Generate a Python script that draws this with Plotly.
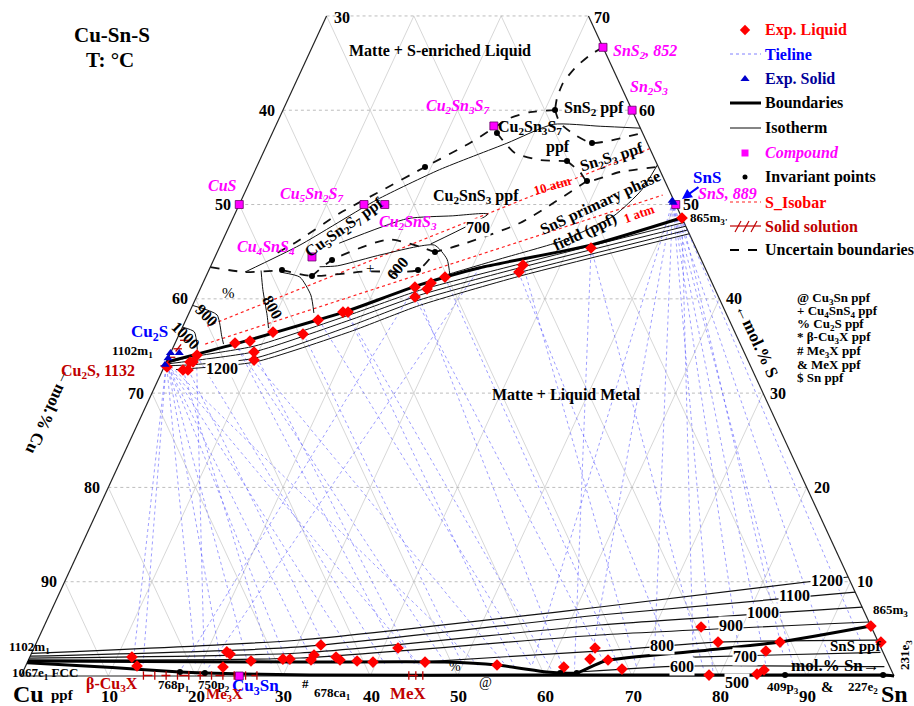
import plotly.graph_objects as go

# ------------------------------------------------------------------
# Cu-Sn-S liquidus projection.  All compositions are mol.% given as
# (Sn, S) pairs; Cu = 100 - Sn - S.  The diagram is cut at 70 % S.
# ------------------------------------------------------------------
TICKS = [10, 20, 30, 40, 50, 60, 70, 80, 90]
S_TOP = 70

compound_sn = [33.33, 40.0, 50.0, 25.0, 16.67, 14.29, 0.0, 11.11, 25.0]
compound_s = [66.67, 60.0, 50.0, 58.33, 50.0, 50.0, 50.0, 44.44, 0.0]

# experimental liquid compositions (matte side, then metal side)
liquid_sn = [6.86, 8.47, 10.63, 14.17, 15.15, 17.58, 18.16, 3.14, 2.71, 3.05,
             9.51, 9.94, 2.33, 2.90, 0.34, 24.5, 25.03, 25.99, 26.13, 27.41,
             35.71, 35.62, 42.6, 51.43,
             11.7, 12.76, 22.3, 22.78, 22.66, 25.55, 29.1, 29.9, 32.7, 32.45,
             32.37, 35.08, 35.69, 37.7, 39.58, 41.7, 45.54, 53.94, 61.7, 64.28,
             64.27, 66.39, 75.3, 78.04, 85.14, 84.0, 68.47, 78.76, 84.2, 84.79,
             94.7, 96.7]
liquid_s = [35.31, 35.52, 36.47, 36.26, 37.75, 38.6, 38.6, 34.04, 33.3, 33.3,
            34.36, 33.51, 32.45, 32.45, 32.77, 41.25, 40.2, 41.04, 41.67, 42.31,
            43.58, 42.84, 45.39, 48.57,
            2.01, 1.06, 2.55, 2.33, 0.95, 1.59, 1.8, 1.8, 3.29, 2.23,
            1.7, 2.01, 1.7, 1.59, 1.48, 2.97, 1.48, 1.17, 0.95, 1.8,
            2.97, 1.7, 5.2, 3.6, 3.6, 2.65, 0.74, 0.1, 0.21, 0.64,
            5.3, 3.6]

# experimental solid compositions
solid_sn = [0.0, 1.0, 0.0, 0.0, 49.4, 49.6]
solid_s = [34.25, 34.25, 33.7, 33.0, 50.4, 50.2]

# invariant points
inv_sn = [31.16, 25.73, 37.15, 35.24, 19.29, 38.59, 8.37, 13.57, 12.12, 24.94,
          23.95, 18.0, 20.9, 61.6, 63.5, 87.47, 98.7]
inv_s = [60.02, 57.58, 56.52, 54.61, 53.98, 52.49, 43.05, 44.11, 42.42, 44.96,
         43.05, 0.42, 0.32, 0.32, 0.32, 0.1, 0.1]

# tie-lines: matte end (Sn, S) -> metal end (Sn, S)
tie_matte = [(0.0, 33.3), (0.0, 33.3), (0.0, 33.3), (0.3, 33.0), (0.3, 33.0),
             (0.0, 33.3), (0.5, 32.8), (0.0, 33.3), (0.3, 33.0), (0.0, 33.3),
             (2.3, 32.5), (2.9, 32.5), (3.1, 34.0), (3.1, 34.0), (6.9, 35.3),
             (6.9, 35.3), (9.5, 34.4), (9.9, 33.5), (14.2, 36.3), (15.2, 37.8),
             (18.0, 38.6), (18.0, 38.6), (24.5, 41.3), (24.5, 41.3), (25.0, 40.2),
             (30.9, 43.3), (27.4, 42.3), (35.7, 43.6), (35.6, 42.8), (42.6, 45.4),
             (42.6, 45.4), (49.5, 50.3), (49.5, 50.3), (49.5, 50.3), (49.5, 50.3),
             (49.5, 50.3), (49.5, 50.3), (49.5, 50.3), (49.5, 50.3), (51.4, 48.6),
             (51.4, 48.6), (51.4, 48.6)]
tie_metal = [(12.3, 1.0), (13.5, 0.9), (19.5, 1.0), (22.5, 1.0), (25.5, 1.1),
             (30.0, 1.2), (33.0, 1.2), (38.0, 1.3), (45.0, 1.2), (52.0, 1.0),
             (28.0, 1.3), (35.0, 1.4), (20.5, 1.0), (41.0, 1.3), (43.0, 1.3),
             (48.0, 1.3), (44.5, 1.2), (55.0, 1.1), (50.0, 1.2), (58.0, 1.0),
             (56.0, 1.0), (60.5, 0.6), (18.0, 0.8), (62.0, 0.5), (66.0, 1.5),
             (21.0, 0.8), (68.0, 1.0), (70.0, 1.0), (74.0, 1.5), (63.0, 0.8),
             (78.0, 0.5), (58.0, 1.0), (64.5, 1.5), (72.0, 1.0), (79.0, 0.5),
             (82.0, 1.0), (85.0, 0.8), (88.0, 1.0), (92.0, 1.5), (76.0, 2.0),
             (86.0, 2.5), (95.0, 3.0)]

# univariant boundaries (thick)
boundary_matte = [(0.0, 33.3), (6.9, 35.2), (15.1, 37.75), (18.0, 38.7), (25.0, 41.5),
                  (30.9, 43.3), (42.4, 45.7), (51.4, 48.6)]
boundary_metal = [(0.0, 1.6), (31.2, 1.48), (47.8, 1.48), (53.9, 1.17), (60.0, 0.42),
                  (61.6, 0.32), (63.5, 0.32), (66.1, 1.6), (76.3, 2.65), (85.1, 3.6),
                  (94.7, 5.3)]
boundary_low = [(0.0, 1.4), (10.0, 0.9), (18.0, 0.42), (20.9, 0.32), (33.0, 0.1),
                (60.0, 0.1), (87.5, 0.1), (98.7, 0.1), (100.0, 0.0)]

# isotherms on the matte side of the miscibility gap
iso_matte = [
    [(0.2, 33.2), (2.45, 33.8), (9.3, 35.0), (18.5, 38.3), (25.2, 40.9), (35.3, 43.7), (51.9, 48.1)],
    [(0.2, 33.1), (2.66, 33.4), (9.6, 34.4), (18.8, 37.75), (25.5, 40.4), (35.5, 43.3), (52.3, 47.7)],
    [(0.3, 32.9), (2.87, 33.0), (9.9, 33.7), (19.1, 37.1), (25.75, 39.9), (35.7, 42.8), (52.7, 47.3)],
    [(1.5, 32.5), (3.1, 32.6), (10.15, 33.3), (19.4, 36.5), (26.0, 39.3), (35.9, 42.4), (53.1, 46.9)],
]
# isotherms on the metal side: 1200, 1100, 1000, 900, 800, 700, 600
iso_metal = [
    [(0.0, 2.4), (30.05, 3.82), (62.66, 7.32), (89.5, 10.5)],
    [(0.0, 2.1), (30.4, 3.08), (63.1, 6.47), (91.1, 8.9)],
    [(0.0, 1.9), (30.7, 2.44), (63.6, 5.41), (92.7, 7.3)],
    [(0.0, 1.7), (31.0, 1.91), (64.1, 4.35), (94.3, 5.73)],
    [(45.0, 1.48), (66.5, 2.75), (78.0, 3.6), (96.2, 3.8)],
    [(76.0, 2.0), (84.0, 2.2), (97.2, 2.5)],
    [(64.0, 0.45), (75.0, 1.05), (98.4, 1.0)],
]
# isotherms inside the S-rich primary fields
iso_upper = [
    [(4.24, 42.84), (9.1, 45.7), (15.5, 50.5), (21.1, 53.7), (27.4, 56.5), (31.7, 58.5),
     (37.2, 58.3), (41.9, 58.1)],
    [(0.0, 39.3), (3.3, 38.3), (5.0, 36.0), (5.6, 35.2)],
    [(0.0, 37.0), (1.6, 36.5), (2.9, 34.6)],
    [(6.0, 43.0), (7.2, 41.0), (9.1, 38.2), (9.9, 36.9)],
    [(8.5, 42.8), (10.8, 42.3), (13.0, 40.4), (14.3, 38.5)],
    [(13.5, 45.9), (20.0, 48.5), (25.0, 48.8), (29.0, 49.0), (24.0, 45.8)],
    [(12.5, 43.4), (14.5, 43.5), (19.0, 44.7), (24.5, 45.7), (26.7, 44.2), (28.0, 42.3)],
    [(27.0, 42.4), (33.0, 44.3), (39.0, 46.2), (43.5, 48.8), (45.3, 51.5), (45.8, 54.2)],
]
uncertain = [
    [(33.33, 66.67), (32.25, 65.85), (31.22, 64.48), (30.64, 62.88), (30.75, 61.29), (31.16, 60.02)],
    [(31.16, 60.02), (28.4, 59.8), (26.43, 59.17), (23.17, 56.52), (19.29, 53.98),
     (15.17, 51.22), (11.99, 49.1), (8.5, 46.0), (6.5, 44.6)],
    [(31.16, 60.02), (32.42, 58.64), (34.78, 57.37), (37.15, 56.52), (42.4, 57.6)],
    [(25.73, 57.58), (27.18, 56.52), (28.86, 55.46), (32.09, 54.72), (35.24, 54.61)],
    [(35.24, 54.61), (37.31, 53.45), (38.59, 52.49), (41.89, 53.45), (46.0, 54.0)],
    [(38.59, 52.49), (33.14, 48.04), (27.43, 45.71), (24.94, 44.96)],
    [(0.0, 43.37), (4.24, 42.84), (8.37, 43.05)],
    [(8.37, 43.05), (12.12, 42.42), (18.0, 42.9), (23.95, 43.05), (24.94, 44.96)],
    [(12.12, 42.42), (13.57, 44.11), (19.0, 46.3), (24.94, 44.96)],
]
isobar_10 = [(2.8, 37.1), (44.0, 55.9)]
isobar_1 = [(3.5, 35.2), (48.0, 51.0)]

# solid-solution ranges (hatched)
ss_cu2s = [(0.0, 32.9), (0.4, 34.2), (0.9, 35.6)]
ss_cu3sn = [(14.0, 0.05), (27.0, 0.05)]
ss_mex = [(44.4, 0.05), (46.0, 0.05)]

# ------------------------------------------------------------------
FIG_W, FIG_H = 914, 706
X_RANGE = [-2.405, 102.29]
Y_RANGE = [-3.18, 71.69]
FONT = "Liberation Serif"
MAGENTA = "#ff00ff"
DARKRED = "#c00000"


def xy(pts):
    return [p[0] + p[1] / 2.0 for p in pts], [p[1] for p in pts]


def px(xp, yp):
    """page pixel -> data coordinates (for legend samples)"""
    return (X_RANGE[0] + xp / FIG_W * (X_RANGE[1] - X_RANGE[0]),
            Y_RANGE[1] - yp / FIG_H * (Y_RANGE[1] - Y_RANGE[0]))


fig = go.Figure()


def add_lines(paths, color, width, dash="solid"):
    xs, ys = [], []
    for p in paths:
        x, y = xy(p)
        xs += x + [None]
        ys += y + [None]
    fig.add_trace(go.Scatter(x=xs, y=ys, mode="lines", hoverinfo="skip",
                             line=dict(color=color, width=width, dash=dash,
                                       shape="spline", smoothing=0.6)))


def add_straight(paths, color, width, dash="solid"):
    xs, ys = [], []
    for p in paths:
        x, y = xy(p)
        xs += x + [None]
        ys += y + [None]
    fig.add_trace(go.Scatter(x=xs, y=ys, mode="lines", hoverinfo="skip",
                             line=dict(color=color, width=width, dash=dash)))


# grid
grid_h, grid_inc = [], []
for k in TICKS:
    if k < S_TOP:
        grid_h.append([(0, k), (100 - k, k)])
    top = min(S_TOP, 100 - k)
    grid_inc.append([(k, 0), (k, top)])
    grid_inc.append([(100 - k, 0), (100 - k - top, top)])
grid_h.append([(0, S_TOP), (100 - S_TOP, S_TOP)])
add_straight(grid_inc, "#cdcdcd", 0.8)
add_straight(grid_h, "#b5b5b5", 0.9, "dot")

# frame
add_straight([[(0, 0), (0, S_TOP)], [(100, 0), (100 - S_TOP, S_TOP)], [(0, 0), (100, 0)]],
             "#222222", 1.2)

# tie-lines
add_straight([[a, b] for a, b in zip(tie_matte, tie_metal)], "rgba(80,80,255,0.7)", 0.8, "dot")

# S isobars
add_straight([isobar_10, isobar_1], "#ff2020", 1.2, "dot")

# isotherms
add_lines(iso_matte, "#111111", 1.0)
add_lines(iso_metal, "#111111", 1.2)
add_lines(iso_upper, "#111111", 1.0)

# uncertain boundaries
add_lines(uncertain, "#111111", 1.8, "dash")

# boundaries
add_lines([boundary_matte, boundary_metal, boundary_low], "#000000", 3.0)

# solid solutions: red line with cross ticks
for seg, sym in ((ss_cu2s, "line-ew"), (ss_cu3sn, "line-ns"), (ss_mex, "line-ns")):
    sx_, sy_ = xy(seg)
    fig.add_trace(go.Scatter(x=sx_, y=sy_, mode="lines", hoverinfo="skip",
                             line=dict(color=DARKRED, width=1.4, dash="dash")))
    n = max(3, int(abs(seg[-1][0] - seg[0][0]) / 1.3) + 1) if sym == "line-ns" else 4
    tx = [sx_[0] + (sx_[-1] - sx_[0]) * i / (n - 1) for i in range(n)]
    ty = [sy_[0] + (sy_[-1] - sy_[0]) * i / (n - 1) for i in range(n)]
    fig.add_trace(go.Scatter(x=tx, y=ty, mode="markers", hoverinfo="skip",
                             marker=dict(symbol=sym, size=6,
                                         line=dict(color=DARKRED, width=1.3))))

# markers
cx, cy = xy(list(zip(compound_sn, compound_s)))
fig.add_trace(go.Scatter(x=cx, y=cy, mode="markers", hoverinfo="skip",
                         marker=dict(symbol="square", size=8, color=MAGENTA,
                                     line=dict(color="#660066", width=0.8))))
lx, ly = xy(list(zip(liquid_sn, liquid_s)))
fig.add_trace(go.Scatter(x=lx, y=ly, mode="markers", hoverinfo="skip",
                         marker=dict(symbol="diamond", size=9, color="#ff0000")))
sx, sy = xy(list(zip(solid_sn, solid_s)))
fig.add_trace(go.Scatter(x=sx, y=sy, mode="markers", hoverinfo="skip",
                         marker=dict(symbol="triangle-up", size=8, color="#0000cc")))
ix, iy = xy(list(zip(inv_sn, inv_s)))
fig.add_trace(go.Scatter(x=ix, y=iy, mode="markers", hoverinfo="skip",
                         marker=dict(symbol="circle", size=6, color="#000000")))

# ---------------- legend (drawn in page pixels) ----------------
LEG_X0, LEG_X1, LEG_XM, LEG_TX = 730, 761, 745, 763
legend_rows = [
    ("Exp. Liquid", "#ff0000", 30, False),
    ("Tieline", "#0000ff", 54, False),
    ("Exp. Solid", "#000099", 79, False),
    ("Boundaries", "#000000", 103, False),
    ("Isotherm", "#000000", 128, False),
    ("Compound", MAGENTA, 153, True),
    ("Invariant points", "#000000", 177, False),
    ("S_Isobar", "#ff0000", 202, False),
    ("Solid solution", DARKRED, 226, False),
    ("Uncertain boundaries", "#000000", 250, False),
]


def leg_line(y, color, width, dash="solid"):
    a = px(LEG_X0, y)
    b = px(LEG_X1, y)
    fig.add_trace(go.Scatter(x=[a[0], b[0]], y=[a[1], b[1]], mode="lines", hoverinfo="skip",
                             line=dict(color=color, width=width, dash=dash)))


def leg_marker(y, symbol, color, size):
    a = px(LEG_XM, y)
    fig.add_trace(go.Scatter(x=[a[0]], y=[a[1]], mode="markers", hoverinfo="skip",
                             marker=dict(symbol=symbol, color=color, size=size)))


leg_marker(30, "diamond", "#ff0000", 8)
leg_line(54, "rgba(80,80,255,0.8)", 0.9, "dot")
leg_marker(79, "triangle-up", "#0000cc", 8)
leg_line(103, "#000000", 3)
leg_line(128, "#333333", 1.2)
leg_marker(153, "square", MAGENTA, 7)
leg_marker(177, "circle", "#000000", 5)
leg_line(202, "#ff2020", 1.2, "dot")
leg_line(226, DARKRED, 1.2)
hx, hy = [], []
for xh in (738, 746, 754):
    a = px(xh - 3, 232)
    b = px(xh + 3, 221)
    hx += [a[0], b[0], None]
    hy += [a[1], b[1], None]
fig.add_trace(go.Scatter(x=hx, y=hy, mode="lines", hoverinfo="skip",
                         line=dict(color=DARKRED, width=1.2)))
leg_line(250, "#000000", 1.8, "dash")

annotations = []


def label(text, x, y, size=16, color="#000000", angle=0, bold=True, italic=False,
          xanchor="center", bg=None):
    t = text
    if italic:
        t = "<i>" + t + "</i>"
    if bold:
        t = "<b>" + t + "</b>"
    d = dict(text=t, x=x / FIG_W, y=1 - y / FIG_H, xref="paper", yref="paper",
             showarrow=False, xanchor=xanchor, yanchor="middle", textangle=angle,
             font=dict(family=FONT, size=size, color=color))
    if bg:
        d["bgcolor"] = bg
        d["borderpad"] = 0
    annotations.append(d)


for txt, col, yy, ital in legend_rows:
    label(txt, LEG_TX, yy, 16, col, italic=ital, xanchor="left")

# title
label("Cu-Sn-S", 112, 35, 21)
label("T: °C", 110, 60, 21)

# axis tick labels
for s in [10, 20, 30, 40, 50, 60]:
    x0 = 21 + 8.73 * (s / 2.0)
    y0 = 676 - 9.43 * s
    label(str(100 - s), x0 - 16, y0, 16)
    xr = 21 + 8.73 * (100 - s / 2.0)
    label(str(s), xr + 15, y0, 16)
label("30", 342, 17, 16)
label("70", 602, 17, 16)
for k in TICKS:
    label(str(k), 21 + 8.73 * k + 1, 696, 17)

label("←mol.% Cu", 50, 412, 17, angle=115)
label("←mol.% S", 757, 340, 17, angle=65)
label("mol.% Sn→", 835, 665, 17)
label("Cu", 28, 694, 24)
label("Sn", 894, 694, 24)

# region / field names
label("Matte + S-enriched Liquid", 440, 51, 16)
label("Matte + Liquid Metal", 566, 395, 16)
label("SnS<sub>2</sub>, 852", 645, 52, 16, MAGENTA, italic=True)
label("Sn<sub>2</sub>S<sub>3</sub>", 649, 88, 16, MAGENTA, italic=True)
label("Cu<sub>2</sub>Sn<sub>3</sub>S<sub>7</sub>", 457, 107, 16, MAGENTA, italic=True)
label("SnS<sub>2</sub> ppf", 594, 108, 16)
label("Cu<sub>2</sub>Sn<sub>3</sub>S<sub>7</sub>", 530, 128, 16)
label("ppf", 558, 147, 16)
label("Sn<sub>2</sub>S<sub>3</sub> ppf", 612, 157, 16, angle=-17)
label("10 atm", 552, 185, 13, "#ff0000", angle=-17)
label("1 atm", 639, 213, 13, "#ff0000", angle=-20)
label("SnS primary phase", 600, 203, 16, angle=-25)
label("field (ppf)", 585, 232, 16, angle=-25)
label("Cu<sub>2</sub>SnS<sub>3</sub> ppf", 476, 196, 16)
label("CuS", 222, 185, 16, MAGENTA, italic=True)
label("Cu<sub>5</sub>Sn<sub>2</sub>S<sub>7</sub>", 311, 195, 16, MAGENTA, italic=True)
label("Cu<sub>2</sub>SnS<sub>3</sub>", 408, 223, 16, MAGENTA, italic=True)
label("Cu<sub>4</sub>SnS<sub>4</sub>", 266, 247, 16, MAGENTA, italic=True)
label("Cu<sub>5</sub>Sn<sub>2</sub>S<sub>7</sub> ppf", 345, 228, 16, angle=-35)
label("700", 478, 227, 16, bg="white")
label("600", 397, 268, 16, angle=-50)
label("+", 370, 268, 15, bold=False)
label("800", 273, 307, 16, angle=60)
label("%", 228, 293, 15, bold=False)
label("900", 207, 315, 16, angle=45)
label("1000", 186, 335, 16, angle=45)
label("1200", 222, 369, 16, bg="white")
label("1102m<sub>1</sub>", 132, 351, 13)
label("Cu<sub>2</sub>S", 149, 333, 17, "#0000ff")
label("Cu<sub>2</sub>S, 1132", 137, 371, 16, DARKRED, xanchor="right")
label("SnS", 707, 177, 17, "#0000ff")
label("SnS, 889", 727, 193, 16, MAGENTA, italic=True)
label("865m<sub>3'</sub>", 708, 218, 13)

notes = ["@ Cu<sub>3</sub>Sn ppf", "+ Cu<sub>4</sub>SnS<sub>4</sub> ppf", "% Cu<sub>2</sub>S ppf",
         "* β-Cu<sub>3</sub>X ppf", "# Me<sub>3</sub>X ppf", "&amp; MeX ppf", "$ Sn ppf"]
for i, n in enumerate(notes):
    label(n, 795, 298 + 13.3 * i, 13, xanchor="left")

# bottom region labels
label("1102m<sub>1</sub>", 30, 647, 13)
label("1067e<sub>1</sub> FCC", 45, 673, 13)
label("ppf", 62, 695, 15)
label("β-Cu<sub>3</sub>X", 112, 684, 16, DARKRED)
label("768p<sub>1</sub>", 174, 685, 13)
label("750p<sub>2</sub>", 214, 685, 13)
label("Cu<sub>3</sub>Sn", 255, 687, 17, "#0000ff")
label("Me<sub>3</sub>X", 224, 695, 15, DARKRED)
label("#", 305, 683, 13)
label("678ca<sub>1</sub>", 332, 693, 13)
label("MeX", 408, 693, 17, DARKRED)
label("%", 455, 666, 14, bold=False)
label("@", 485, 682, 14, bold=False)
label("409p<sub>3</sub>", 783, 687, 13)
label("&amp;", 827, 687, 15)
label("227e<sub>2</sub>", 863, 687, 13)
label("231e<sub>3</sub>", 905, 655, 13, angle=-90)
label("SnS ppf", 855, 646, 15)
label("865m<sub>3</sub>", 890, 610, 13)
for txt, xx, yy in [("1200", 827, 580), ("1100", 794, 595), ("1000", 763, 612),
                    ("900", 731, 625), ("800", 662, 645), ("700", 745, 656),
                    ("600", 682, 666), ("500", 737, 682)]:
    label(txt, xx, yy, 16, bg="white")

# SnS arrow
a0 = px(700, 186)
a1 = px(682, 199)
annotations.append(dict(x=a1[0], y=a1[1], ax=a0[0], ay=a0[1], xref="x", yref="y",
                        axref="x", ayref="y", showarrow=True, arrowhead=2,
                        arrowsize=1, arrowwidth=2, arrowcolor="#0000ff", text=""))

fig.update_layout(
    width=FIG_W, height=FIG_H, margin=dict(l=0, r=0, t=0, b=0),
    paper_bgcolor="white", plot_bgcolor="white", showlegend=False,
    xaxis=dict(range=X_RANGE, visible=False, fixedrange=True),
    yaxis=dict(range=Y_RANGE, visible=False, fixedrange=True),
    annotations=annotations,
)
fig.write_html("out.html")
